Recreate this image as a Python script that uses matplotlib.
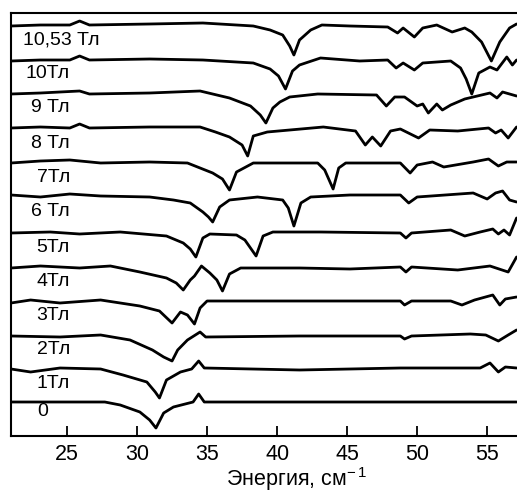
import matplotlib
matplotlib.use("Agg")
import matplotlib.pyplot as plt

plt.rcParams['font.family'] = ['Liberation Sans', 'DejaVu Sans']
plt.rcParams['mathtext.fontset'] = 'custom'
plt.rcParams['mathtext.rm'] = 'Liberation Sans'
plt.rcParams['mathtext.it'] = 'Liberation Sans'

# Field labels (bottom to top)
labels = ["0", "1Тл", "2Тл", "3Тл", "4Тл", "5Тл", "6 Тл", "7Тл", "8 Тл", "9 Тл", "10Тл", "10,53 Тл"]

# Spectra: energy (cm^-1) and relative transmission (a.u.), one pair per field
x0 = [21.0, 27.7, 28.8, 30.2, 30.9, 31.35, 31.9, 32.6, 34.0, 34.4, 34.8, 57.1]
y0 = [0, 0, -3, -10, -18, -26, -11, -5, 0, 8, 0, 0]

x1 = [21.0, 22.4, 24.5, 27.4, 29.0, 30.7, 31.3, 31.6, 32.1, 33.1, 33.9, 34.4, 34.8, 41.6, 48.8, 54.5, 55.2, 55.8, 56.3, 57.1]
y1 = [-1, -4, 0, -1, -7, -14, -24, -30, -12, -4, -1, 7, 0, -2, 0, 0, 5, -4, 1, 0]

x2 = [21.0, 24.5, 27.4, 29.5, 31.1, 31.9, 32.5, 32.9, 33.6, 34.5, 34.9, 41.6, 48.8, 49.1, 49.6, 53.8, 54.9, 55.8, 56.5, 57.1]
y2 = [-2, -3, -1, -6, -16, -23, -27, -16, -6, 2, -3, -2, -2, -5, -2, 0, -1, -7, -1, 4]

x3 = [21.0, 22.4, 24.5, 27.4, 30.2, 31.6, 32.5, 33.1, 33.6, 34.1, 34.5, 35.0, 41.6, 48.8, 49.1, 49.6, 52.4, 53.2, 54.1, 55.4, 55.9, 56.3, 57.1]
y3 = [-3, 0, -3, 0, -6, -11, -23, -12, -15, -24, -8, -1, -1, -1, -5, -1, -1, -5, 0, 5, -5, 1, 3]

x4 = [21.0, 23.1, 25.9, 28.1, 30.2, 32.1, 32.8, 33.3, 33.8, 34.1, 34.6, 35.2, 35.7, 36.1, 36.6, 37.4, 41.6, 45.2, 48.8, 49.2, 49.6, 52.9, 55.2, 56.5, 57.1]
y4 = [-2, 0, -2, 0, -6, -12, -17, -24, -14, -10, 0, -7, -14, -25, -8, -2, -2, -3, -1, -6, -1, -4, 0, -6, 9]

x5 = [21.0, 23.8, 25.9, 28.8, 32.1, 33.3, 33.8, 34.2, 34.7, 35.2, 37.1, 37.7, 38.5, 39.0, 39.7, 43.1, 48.8, 49.2, 49.6, 52.4, 53.4, 54.5, 55.4, 55.8, 56.2, 56.6, 57.1]
y5 = [-1, 0, -2, 0, -4, -11, -17, -25, -6, -2, -3, -8, -24, -4, 0, 0, -1, -6, -1, 2, -4, 0, 3, -2, 2, -3, 14]

x6 = [21.0, 23.1, 25.2, 27.4, 30.9, 32.6, 33.8, 34.7, 35.1, 35.4, 35.9, 36.6, 38.6, 40.4, 40.8, 41.2, 41.7, 42.4, 45.2, 48.8, 49.4, 50.0, 54.0, 55.0, 55.6, 56.1, 56.6, 57.1]
y6 = [3, 1, 4, 2, 1, -2, -5, -14, -19, -24, -9, -2, 1, -2, -10, -28, -5, 1, 3, 3, -5, 1, 5, -1, 5, 7, -2, -4]

x7 = [21.0, 23.1, 25.2, 27.4, 30.9, 33.6, 35.4, 36.1, 36.6, 37.1, 38.3, 42.9, 43.4, 44.0, 44.4, 44.9, 48.8, 49.5, 50.0, 51.1, 51.9, 54.0, 55.1, 55.8, 56.4, 57.1]
y7 = [1, 3, 4, 1, 2, 1, -9, -15, -26, -8, 1, 1, -6, -25, -4, 1, 1, -9, -1, 2, -3, 2, 5, -2, 2, 2]

x8 = [21.0, 23.1, 25.2, 25.9, 26.6, 30.9, 34.5, 35.6, 36.6, 37.5, 37.9, 38.3, 39.3, 43.3, 45.6, 46.3, 46.8, 47.4, 48.1, 48.8, 50.1, 50.9, 52.9, 55.1, 55.6, 56.0, 56.5, 57.1]
y8 = [2, 3, 2, 6, 2, 3, 3, -2, -7, -15, -26, -6, -2, 3, -1, -15, -7, -16, -1, 1, -8, 0, -1, 2, -3, 0, -8, 3]

x9 = [21.0, 23.1, 25.9, 26.6, 30.9, 34.5, 36.6, 38.1, 38.8, 39.2, 39.7, 40.2, 40.9, 42.9, 47.1, 47.8, 48.4, 49.1, 50.0, 50.4, 50.8, 51.4, 51.8, 52.4, 53.4, 55.2, 55.7, 56.1, 57.1]
y9 = [2, 3, 5, 2, 3, 5, -2, -10, -19, -27, -12, -6, -1, 2, 1, -10, -1, -1, -10, -8, -17, -8, -14, -9, -3, 3, -2, 4, 0]

x10 = [21.0, 23.1, 25.2, 25.9, 26.6, 30.9, 34.7, 38.3, 39.5, 40.1, 40.6, 41.1, 41.6, 43.1, 45.9, 47.9, 48.5, 49.0, 49.8, 50.4, 52.4, 53.1, 53.5, 53.9, 54.4, 55.2, 55.7, 56.4, 56.8, 57.1]
y10 = [1, 2, 2, 6, 2, 3, 2, -1, -7, -14, -27, -9, -3, 4, 1, 2, -6, -1, -8, -1, 1, -6, -17, -32, -11, -5, -8, 5, -3, 2]

x11 = [21.0, 23.1, 25.2, 25.9, 26.6, 30.9, 34.7, 38.3, 39.5, 40.4, 40.9, 41.2, 41.6, 42.4, 43.2, 45.2, 47.9, 48.6, 49.0, 49.8, 50.4, 51.4, 52.5, 53.4, 53.9, 54.6, 55.3, 55.9, 56.6, 57.1]
y11 = [2, 3, 3, 7, 3, 4, 5, 2, -2, -7, -18, -27, -12, -2, 3, 2, 1, -5, 0, -9, 0, 3, -4, 0, -4, -14, -33, -14, 0, 4]

xs = [x0, x1, x2, x3, x4, x5, x6, x7, x8, x9, x10, x11]
ys = [y0, y1, y2, y3, y4, y5, y6, y7, y8, y9, y10, y11]

# label anchor positions (energy, a.u.)
label_x = [22.86, 25.2, 25.2, 25.2, 25.2, 25.2, 25.2, 25.2, 25.2, 25.2, 25.2, 21.86]
label_y = [-10, 19, 52, 87, 121, 155, 191, 225, 259, 295, 329, 362]
label_ha = ['left'] + ['right'] * 10 + ['left']

xticks = [25, 30, 35, 40, 45, 50, 55]
step = 34

fig = plt.figure(figsize=(5.17, 5.03), dpi=100)
ax = fig.add_axes([11 / 517, 67 / 503, 570 / 517, 423 / 503])

for i, (xv, yv) in enumerate(zip(xs, ys)):
    ax.plot(xv, [v + step * i for v in yv], color='black', lw=2.0,
            solid_joinstyle='round', solid_capstyle='round')

for t, lx, ly, ha in zip(labels, label_x, label_y, label_ha):
    ax.text(lx, ly, t, ha=ha, va='center', fontsize=14, color='black')

ax.set_xlim(21.0, 61.7)
ax.set_ylim(-34, 389)
ax.set_xticks(xticks)
ax.set_xticklabels([str(t) for t in xticks], fontsize=15.5)
ax.set_yticks([])
ax.tick_params(axis='x', direction='in', length=7, width=1.3, pad=6)
for s in ['left', 'top', 'bottom', 'right']:
    ax.spines[s].set_linewidth(1.5)
ax.set_xlabel('Энергия, см$^{-\\,1}$', fontsize=15.5, labelpad=0)

fig.savefig('out.png', dpi=100)
